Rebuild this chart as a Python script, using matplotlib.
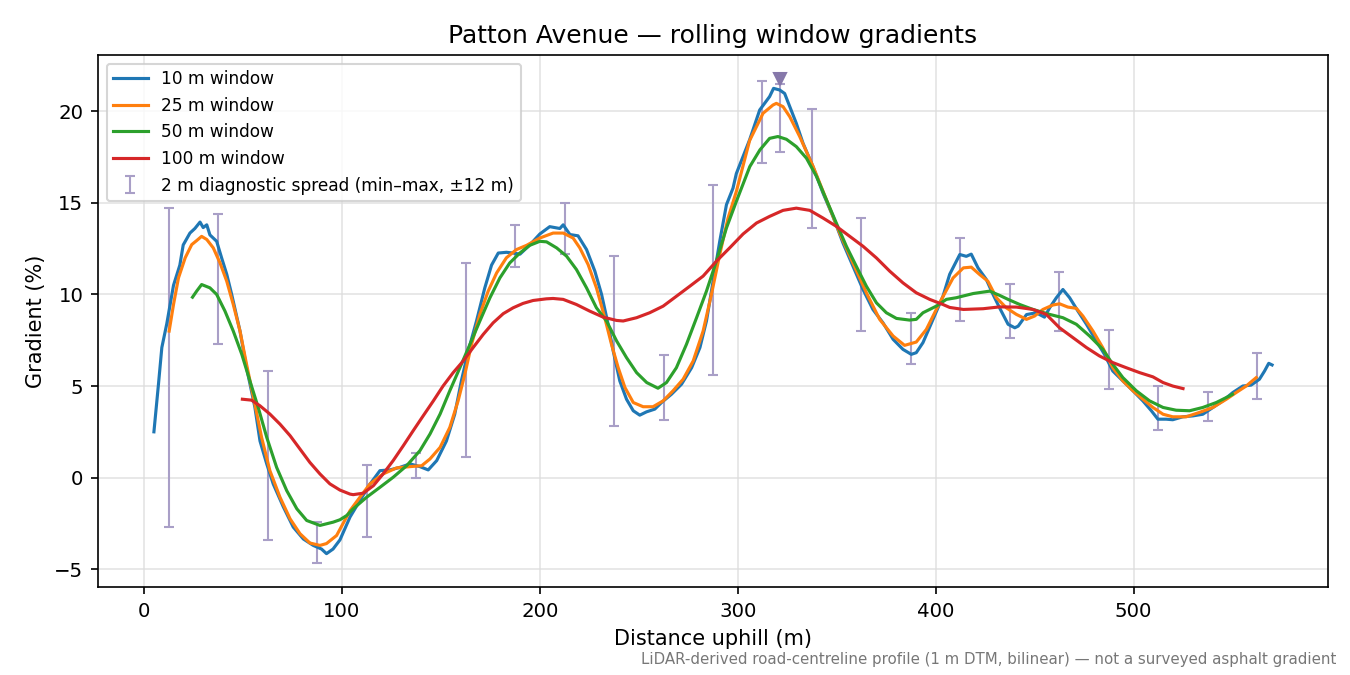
import numpy as np
import matplotlib
matplotlib.use("Agg")
import matplotlib.pyplot as plt

# ---- data ----
x10 = [5, 7.3, 9.0, 11.5, 14.9, 18.1, 19.8, 23.2, 25.7, 28.3, 29.9, 31.7, 33.3, 36.7, 39.2, 41.8, 44.3,
       48.5, 51.8, 56.0, 58.6, 62.0, 65.3, 70.4, 75.4, 80.5, 85.5, 89.7, 92.2, 95.5, 99.0, 104.1, 109.1,
       114.2, 119.2, 124.2, 129.3, 134.4, 139.4, 143.6, 147.9, 152.8, 157.0, 160.4, 163.8, 168.0, 172.2,
       175.6, 179.0, 183.1, 186.5, 190.0, 194.9, 200.0, 205.0, 210.1, 211.8, 215.2, 219.3, 223.6, 227.8,
       231.2, 234.5, 237.1, 240.4, 243.8, 247.2, 250.5, 253.9, 258.1, 261.5, 266.5, 271.6, 276.7, 280.9,
       284.2, 287.5, 290.9, 294.3, 297.6, 299.3, 306.0, 311.1, 316.1, 318.1, 321.2, 323.7, 326.3, 329.6,
       333.0, 338.0, 343.1, 348.1, 353.2, 358.2, 363.3, 368.3, 373.4, 378.5, 383.5, 387.7, 390.2, 393.6,
       398.7, 403.7, 407.1, 412.2, 415.5, 418.0, 421.4, 425.6, 429.0, 432.3, 436.6, 440.0, 441.7, 445.9,
       450.8, 455.0, 457.6, 461.0, 464.3, 467.7, 471.9, 476.2, 481.2, 485.3, 489.5, 494.6, 499.7, 504.7,
       509.0, 512.3, 516.5, 519.8, 524.9, 530.0, 535.0, 540.1, 545.1, 550.1, 555.2, 559.4, 563.6, 566.2,
       568.3, 570.0]
g10 = [2.5, 5.1, 7.1, 8.4, 10.5, 11.6, 12.7, 13.35, 13.6, 13.95, 13.65, 13.8, 13.25, 12.9, 12.0, 11.1, 10.0,
       8.0, 6.0, 3.85, 2.0, 0.75, -0.35, -1.6, -2.7, -3.35, -3.7, -3.9, -4.15, -3.9, -3.4, -2.15, -1.25,
       -0.35, 0.38, 0.42, 0.56, 0.75, 0.6, 0.42, 0.93, 2.0, 3.46, 5.3, 6.9, 8.55, 10.36,
       11.6, 12.26, 12.3, 12.26, 12.2, 12.7, 13.3, 13.7, 13.6, 13.8, 13.27, 13.2, 12.45, 11.27,
       10.0, 8.37, 6.9, 5.28, 4.28, 3.65, 3.41, 3.59, 3.74, 4.1, 4.55, 5.1, 6.0, 7.1,
       8.55, 10.7, 12.9, 14.9, 15.8, 16.6, 18.44, 20.07, 20.8, 21.25, 21.16, 20.97, 20.25, 19.34,
       18.25, 16.98, 15.53, 14.26, 12.8, 11.54, 10.27, 9.18, 8.45, 7.55, 7.0, 6.73, 6.82, 7.37,
       8.64, 9.9, 11.1, 12.18, 12.08, 12.2, 11.45, 10.82, 10.0, 9.27, 8.37, 8.18, 8.27, 8.9,
       9.0, 8.76, 9.27, 9.82, 10.27, 9.82, 9.09, 8.37, 7.46, 6.73, 5.82, 5.28, 4.74, 4.19,
       3.65, 3.19, 3.19, 3.16, 3.32, 3.37, 3.46, 3.83, 4.19, 4.64, 5.0, 5.05, 5.37, 5.82,
       6.24, 6.15]

x25 = [12.7, 14.9, 17.4, 20.8, 24.1, 26.6, 29.1, 31.7, 35.0, 38.4, 41.8, 45.1, 48.5, 51.8, 56.0, 59.4,
       63.6, 68.7, 73.8, 78.8, 83.8, 88.9, 92.2, 97.3, 104.1, 109.1, 114.2, 120.8, 127.6, 134.4, 140.3,
       144.5, 149.6, 154.5, 158.7, 162.1, 165.5, 169.7, 173.9, 178.2, 183.1, 188.2, 193.3, 200.0, 206.7,
       211.8, 216.8, 220.2, 224.4, 228.6, 232.8, 236.2, 239.6, 243.0, 247.2, 252.2, 257.2, 262.3, 267.3,
       272.4, 277.5, 282.5, 286.7, 290.9, 295.1, 299.3, 306.0, 312.8, 317.8, 319.5, 322.9, 326.3, 331.3,
       338.1, 344.8, 351.5, 358.2, 365.0, 371.7, 378.5, 384.3, 390.2, 395.3, 402.0, 408.8, 414.0, 418.0,
       422.2, 426.4, 430.7, 435.7, 440.8, 445.9, 450.0, 454.2, 459.2, 462.6, 466.8, 471.1, 474.4, 479.5,
       484.4, 489.5, 494.6, 499.7, 504.7, 509.8, 514.9, 519.8, 526.6, 533.3, 540.1, 546.9, 551.8, 556.9,
       562.0]
g25 = [8.0, 9.45, 10.9, 12.0, 12.72, 12.94, 13.17, 13.0, 12.54, 11.72, 10.72, 9.45, 8.0, 6.19, 4.01, 2.2,
       0.38, -1.07, -2.25, -3.06, -3.57, -3.7, -3.6, -3.16, -1.8, -1.07, -0.34, 0.2, 0.53, 0.6, 0.65,
       1.02, 1.65, 2.74, 4.19, 5.64, 7.28, 8.91, 10.18, 11.18, 12.0, 12.45, 12.68, 13.08, 13.35,
       13.35, 13.08, 12.54, 11.63, 10.36, 8.73, 7.28, 6.0, 4.92, 4.1, 3.87, 3.87, 4.19, 4.74,
       5.37, 6.37, 8.0, 10.0, 12.18, 14.17, 15.62, 18.4, 19.89, 20.34, 20.43, 20.25, 19.7, 18.62,
       16.98, 15.17, 13.35, 11.72, 10.09, 8.64, 7.73, 7.22, 7.4, 8.09, 9.54, 10.9, 11.45, 11.49,
       11.09, 10.72, 9.82, 9.27, 8.91, 8.64, 8.82, 9.18, 9.42, 9.49, 9.31, 9.24, 8.82, 8.0,
       7.1, 6.0, 5.28, 4.74, 4.28, 3.83, 3.46, 3.32, 3.32, 3.56, 3.83, 4.28, 4.64, 5.0,
       5.46]

x50 = [24.5, 26.6, 29.1, 33.3, 36.7, 40.9, 45.1, 49.4, 53.5, 57.7, 62.0, 67.0, 72.1, 77.2, 82.2, 88.9,
       95.6, 99.0, 102.4, 105.7, 112.5, 119.2, 125.9, 132.7, 139.4, 144.5, 149.6, 154.5, 159.6, 164.7,
       169.7, 174.8, 179.8, 184.8, 189.9, 194.9, 200.0, 203.4, 208.5, 213.5, 218.5, 223.6, 228.6, 233.7,
       238.8, 243.8, 248.9, 254.0, 259.7, 264.0, 269.0, 274.1, 279.2, 284.2, 289.2, 294.3, 299.3, 306.1,
       311.2, 316.1, 320.3, 324.6, 329.6, 334.7, 339.8, 344.8, 349.8, 354.9, 359.9, 365.0, 370.1, 375.1,
       380.2, 386.8, 390.2, 393.6, 400.3, 405.4, 410.4, 419.0, 427.3, 432.3, 436.6, 442.5, 449.2, 457.6,
       464.3, 471.1, 477.8, 484.5, 489.5, 494.6, 501.4, 508.1, 514.9, 521.5, 528.3, 535.0, 541.8, 548.5,
       550.0]
g50 = [9.85, 10.18, 10.54, 10.36, 10.0, 9.09, 8.0, 6.73, 5.28, 3.83, 2.2, 0.56, -0.71, -1.7, -2.34, -2.61,
       -2.43, -2.3, -2.07, -1.7, -1.07, -0.53, 0.02, 0.65, 1.47, 2.38, 3.47, 4.74, 6.0, 7.28,
       8.55, 9.82, 10.9, 11.72, 12.26, 12.68, 12.9, 12.87, 12.54, 12.09, 11.36, 10.36, 9.27, 8.55,
       7.46, 6.55, 5.73, 5.19, 4.88, 5.19, 6.0, 7.28, 8.73, 10.18, 11.81, 13.63, 15.08, 16.98,
       17.89, 18.52, 18.62, 18.47, 18.07, 17.44, 16.44, 15.17, 13.9, 12.63, 11.54, 10.45, 9.54, 9.0,
       8.69, 8.6, 8.64, 9.0, 9.36, 9.73, 9.82, 10.05, 10.18, 9.95, 9.73, 9.45, 9.18, 8.91,
       8.73, 8.37, 7.73, 7.0, 6.19, 5.46, 4.74, 4.19, 3.83, 3.68, 3.65, 3.83, 4.1, 4.46,
       4.55]

x100 = [49.7, 54.3, 58.6, 63.6, 68.7, 73.8, 78.8, 83.8, 88.9, 93.9, 99.0, 104.1, 105.7, 110.8, 115.9, 120.8,
        125.9, 131.0, 136.0, 141.1, 146.2, 151.1, 156.2, 161.3, 166.3, 171.4, 176.4, 181.5, 186.5, 191.5,
        196.6, 203.3, 206.7, 211.8, 218.5, 225.2, 232.0, 238.8, 242.1, 248.9, 255.5, 262.3, 269.0, 275.8,
        282.5, 289.2, 296.0, 302.7, 309.5, 316.1, 322.9, 329.6, 336.4, 343.1, 349.8, 356.6, 363.3, 370.1,
        376.8, 383.5, 390.2, 397.0, 403.7, 407.1, 414.0, 424.0, 432.3, 440.8, 449.2, 455.9, 462.6, 469.4,
        476.2, 482.8, 489.5, 496.3, 503.1, 509.8, 514.9, 519.8, 525.0]
g100 = [4.28, 4.23, 3.92, 3.47, 2.92, 2.29, 1.56, 0.83, 0.2, -0.34, -0.68, -0.9, -0.93, -0.85, -0.44, 0.2,
        0.93, 1.74, 2.56, 3.38, 4.19, 5.0, 5.73, 6.37, 7.1, 7.82, 8.45, 8.95, 9.27, 9.51,
        9.67, 9.76, 9.78, 9.73, 9.45, 9.09, 8.76, 8.58, 8.55, 8.73, 9.0, 9.36, 9.9, 10.45,
        11.0, 11.81, 12.55, 13.3, 13.9, 14.26, 14.59, 14.71, 14.59, 14.17, 13.72, 13.17, 12.63, 11.99,
        11.27, 10.63, 10.09, 9.73, 9.45, 9.29, 9.18, 9.22, 9.32, 9.31, 9.18, 8.91, 8.18, 7.64,
        7.1, 6.64, 6.28, 6.0, 5.73, 5.5, 5.19, 5.0, 4.86]

spread_x = [12.5, 37.5, 62.5, 87.5, 112.5, 137.5, 162.5, 187.5, 212.5, 237.5, 262.5, 287.5, 312.5,
            321.5, 337.5, 362.5, 387.5, 412.5, 437.5, 462.5, 487.5, 512.5, 537.5, 562.5]
spread_lo = [-2.7, 7.3, -3.4, -4.65, -3.25, 0.0, 1.15, 11.5, 12.2, 2.8, 3.15, 5.6, 17.15,
             17.8, 13.6, 8.0, 6.2, 8.55, 7.6, 8.0, 4.85, 2.6, 3.1, 4.3]
spread_hi = [14.7, 14.4, 5.8, -2.45, 0.7, 1.35, 11.7, 13.8, 15.0, 12.1, 6.7, 15.95, 21.65,
             21.5, 20.15, 14.15, 9.0, 13.1, 10.55, 11.2, 8.05, 5.0, 4.65, 6.8]

peak_x = [321.5]
peak_y = [21.75]

labels = ["10 m window", "25 m window", "50 m window", "100 m window"]
colors = ["#1f77b4", "#ff7f0e", "#2ca02c", "#d62728"]

# ---- figure ----
fig = plt.figure(figsize=(9, 4.5), dpi=150)
ax = fig.add_axes([0.0726, 0.1304, 0.9111, 0.7881])

for xs, ys, lab, c in zip([x10, x25, x50, x100], [g10, g25, g50, g100], labels, colors):
    ax.plot(xs, ys, color=c, lw=1.5, label=lab)

lo = np.array(spread_lo)
hi = np.array(spread_hi)
mid = (lo + hi) / 2
ax.errorbar(spread_x, mid, yerr=(hi - lo) / 2, fmt="none", ecolor="#a99fc7",
            elinewidth=1.0, capsize=2.5, capthick=1.0,
            label="2 m diagnostic spread (min\u2013max, \u00b112 m)", zorder=1.5)
ax.plot(peak_x, peak_y, marker="v", ms=6, color="#8678aa", ls="none", zorder=4)

ax.grid(True, color="#dddddd", lw=0.8, alpha=0.8)
ax.set_axisbelow(True)
ax.set_xlabel("Distance uphill (m)", fontsize=10)
ax.set_ylabel("Gradient (%)", fontsize=10)
ax.set_title("Patton Avenue \u2014 rolling window gradients", fontsize=12)
ax.tick_params(labelsize=9.5)
ax.legend(loc="upper left", fontsize=8.2, framealpha=0.8)

fig.text(0.99, 0.012, "LiDAR-derived road-centreline profile (1 m DTM, bilinear) \u2014 not a surveyed asphalt gradient",
         ha="right", va="bottom", fontsize=7.2, color="#777777")

fig.savefig("out.png", dpi=150)
